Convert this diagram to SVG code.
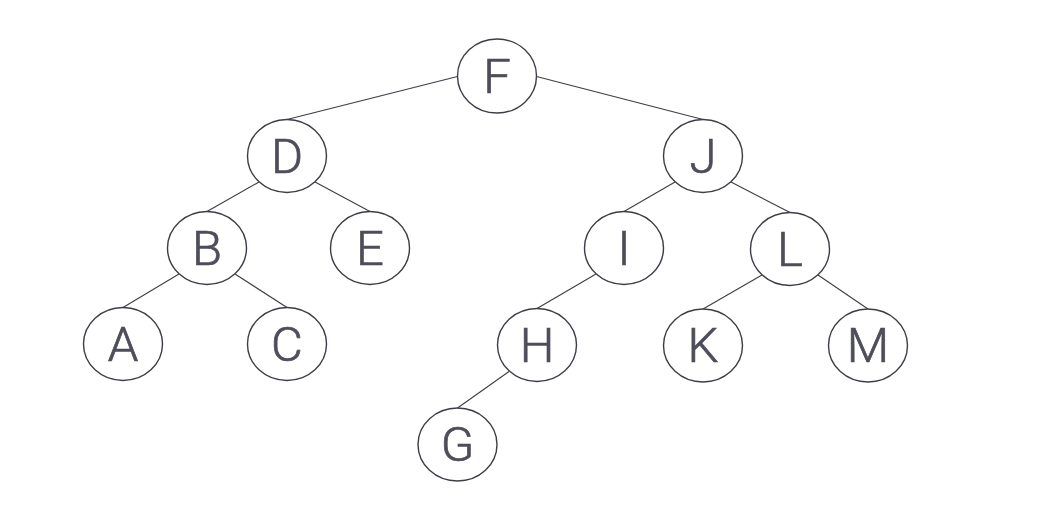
<svg xmlns="http://www.w3.org/2000/svg" width="1048" height="506" viewBox="0 0 1048 506">
<style>
.n ellipse{fill:#fff;stroke:#3d3d47;stroke-width:1.4}
.n text{font-family:Roboto,"Liberation Sans",sans-serif;font-weight:300;font-size:49px;fill:#4e4e5a;stroke:#4e4e5a;stroke-width:0.7;text-anchor:middle}
#edges line{stroke:#3d3d47;stroke-width:1.1}
</style>
<rect width="1048" height="506" fill="#fff"/>
<g id="edges">
<line x1="457.5" y1="76.5" x2="287" y2="119.5"/>
<line x1="536.5" y1="76.5" x2="703" y2="119.5"/>
<line x1="259" y1="182" x2="207" y2="211.5"/>
<line x1="315" y1="182" x2="370" y2="211.5"/>
<line x1="179" y1="274" x2="123" y2="307.5"/>
<line x1="235" y1="274" x2="287" y2="307.5"/>
<line x1="675" y1="182" x2="624" y2="211.5"/>
<line x1="731" y1="182" x2="790" y2="212.5"/>
<line x1="596" y1="274" x2="537" y2="308.5"/>
<line x1="762" y1="275" x2="703" y2="309"/>
<line x1="818" y1="275" x2="868" y2="309"/>
<line x1="509" y1="371.5" x2="457.5" y2="408"/>
</g>
<g id="F" class="n"><ellipse cx="497" cy="76" rx="39.5" ry="37"/><text x="497" y="92.5">F</text></g>
<g id="D" class="n"><ellipse cx="287" cy="156" rx="39.5" ry="36.5"/><text x="287" y="172.5">D</text></g>
<g id="J" class="n"><ellipse cx="703" cy="156" rx="39.5" ry="36.5"/><text x="703" y="172.5">J</text></g>
<g id="B" class="n"><ellipse cx="207" cy="248" rx="39.5" ry="36.5"/><text x="207" y="264.5">B</text></g>
<g id="E" class="n"><ellipse cx="370" cy="248" rx="39.5" ry="36.5"/><text x="370" y="264.5">E</text></g>
<g id="I" class="n"><ellipse cx="624" cy="248" rx="39.5" ry="36.5"/><text x="624" y="264.5">I</text></g>
<g id="L" class="n"><ellipse cx="790" cy="249" rx="39.5" ry="36.5"/><text x="790" y="265.5">L</text></g>
<g id="A" class="n"><ellipse cx="123" cy="344" rx="39.5" ry="36.5"/><text x="123" y="360.5">A</text></g>
<g id="C" class="n"><ellipse cx="287" cy="344" rx="39.5" ry="36.5"/><text x="287" y="360.5">C</text></g>
<g id="H" class="n"><ellipse cx="537" cy="345" rx="39.5" ry="36.5"/><text x="537" y="361.5">H</text></g>
<g id="K" class="n"><ellipse cx="703" cy="345.5" rx="39.5" ry="36.5"/><text x="703" y="362">K</text></g>
<g id="M" class="n"><ellipse cx="868" cy="345.5" rx="39.5" ry="36.5"/><text x="868" y="362">M</text></g>
<g id="G" class="n"><ellipse cx="457.5" cy="444.5" rx="39.5" ry="36.5"/><text x="457.5" y="461">G</text></g>
</svg>
